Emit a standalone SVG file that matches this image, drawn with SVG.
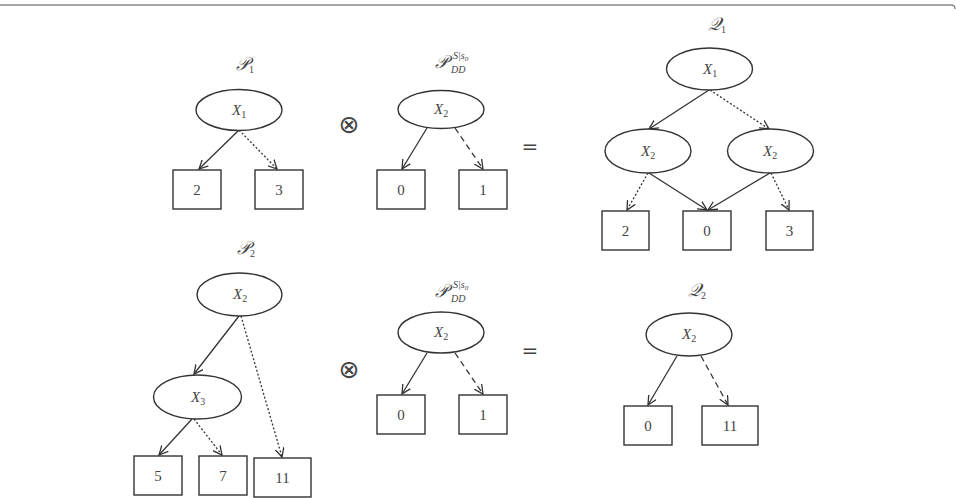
<svg xmlns="http://www.w3.org/2000/svg" width="956" height="498" viewBox="0 0 956 498">
<defs>
<marker id="ah" viewBox="0 0 10 10" refX="9" refY="5" markerWidth="10" markerHeight="10" markerUnits="userSpaceOnUse" orient="auto">
<path d="M0,0.5 L9,5 L0,9.5" fill="none" stroke="#333" stroke-width="1.3"/>
</marker>
</defs>
<style>
.n ellipse,.n rect{fill:#fff;stroke:#333;stroke-width:1.4}
.t{font-family:"Liberation Serif",serif;font-size:15px;fill:#444;text-anchor:middle}
.v{font-family:"Liberation Serif",serif;font-style:italic;font-size:15px;fill:#444}
.s{font-size:10px;font-style:normal}
.si{font-family:"Liberation Serif",serif;font-size:10px;font-style:italic;fill:#444}
.c{font-size:18px}
.e{fill:none;stroke:#333;stroke-width:1.3;marker-end:url(#ah)}
.dot{stroke-dasharray:2,2}
.dash{stroke-dasharray:6,4}
.op{font-family:"DejaVu Sans",sans-serif;font-size:20px;fill:#444;text-anchor:middle}
.ot{font-family:"DejaVu Sans",sans-serif;font-size:25px;fill:#444;text-anchor:middle}
</style>
<path d="M0,5 H951 Q955,5 955,9" fill="none" stroke="#888" stroke-width="1.5"/>

<g id="labels">
<text class="v" x="236" y="70"><tspan class="c">𝒫</tspan><tspan class="s" dy="3">1</tspan></text>
<text class="v c" x="435" y="68">𝒫</text>
<text class="si" x="451" y="73">DD</text>
<text class="si" x="453" y="59">S|s<tspan font-size="7" dy="2">0</tspan></text>
<text class="v" x="708" y="30"><tspan class="c">𝒬</tspan><tspan class="s" dy="3">1</tspan></text>
<text class="v" x="237" y="254"><tspan class="c">𝒫</tspan><tspan class="s" dy="3">2</tspan></text>
<text class="v c" x="435" y="297">𝒫</text>
<text class="si" x="451" y="302">DD</text>
<text class="si" x="453" y="288">S|s<tspan font-size="7" dy="2">0</tspan></text>
<text class="v" x="688" y="296"><tspan class="c">𝒬</tspan><tspan class="s" dy="3">2</tspan></text>
<text class="ot" x="349" y="133">⊗</text>
<text class="ot" x="349" y="378">⊗</text>
<text class="op" x="530" y="153">=</text>
<text class="op" x="530" y="357">=</text>
</g>

<g id="connectors">
<line class="e" x1="239" y1="130" x2="199" y2="169"/>
<line class="e dot" x1="239" y1="130" x2="277" y2="169"/>
<line class="e" x1="427" y1="128" x2="402" y2="169"/>
<line class="e dash" x1="455" y1="128" x2="483" y2="169"/>
<line class="e" x1="709" y1="90" x2="649" y2="129"/>
<line class="e dot" x1="710" y1="90" x2="769" y2="129"/>
<line class="e dot" x1="648" y1="173" x2="627" y2="210"/>
<line class="e" x1="649" y1="173" x2="707" y2="210"/>
<line class="e" x1="770" y1="173" x2="708" y2="210"/>
<line class="e dot" x1="771" y1="173" x2="789" y2="210"/>
<line class="e" x1="239" y1="316" x2="194" y2="374"/>
<line class="e dot" x1="241" y1="316" x2="282" y2="457"/>
<line class="e" x1="192" y1="419" x2="159" y2="455"/>
<line class="e dot" x1="194" y1="419" x2="222" y2="455"/>
<line class="e" x1="427" y1="353" x2="402" y2="394"/>
<line class="e dash" x1="455" y1="353" x2="483" y2="394"/>
<line class="e" x1="677" y1="356" x2="648" y2="405"/>
<line class="e dash" x1="701" y1="356" x2="728" y2="405"/>
</g>

<g id="p1-x1" class="n"><ellipse cx="239" cy="110" rx="43" ry="20.5"/><text class="v" x="232" y="115">X<tspan class="s" dy="3">1</tspan></text></g>
<g id="p1-2" class="n"><rect x="173" y="170" width="48" height="39"/><text class="t" x="197" y="195">2</text></g>
<g id="p1-3" class="n"><rect x="255" y="170" width="48" height="39"/><text class="t" x="279" y="195">3</text></g>

<g id="pdd1-x2" class="n"><ellipse cx="441" cy="109.5" rx="43" ry="19"/><text class="v" x="434" y="114">X<tspan class="s" dy="3">2</tspan></text></g>
<g id="pdd1-0" class="n"><rect x="377" y="170" width="48" height="39"/><text class="t" x="401" y="195">0</text></g>
<g id="pdd1-1" class="n"><rect x="459" y="170" width="48" height="39"/><text class="t" x="483" y="195">1</text></g>

<g id="q1-x1" class="n"><ellipse cx="709.5" cy="69" rx="43" ry="21"/><text class="v" x="703" y="74">X<tspan class="s" dy="3">1</tspan></text></g>
<g id="q1-x2a" class="n"><ellipse cx="648" cy="151" rx="43" ry="22"/><text class="v" x="641" y="156">X<tspan class="s" dy="3">2</tspan></text></g>
<g id="q1-x2b" class="n"><ellipse cx="770.5" cy="151" rx="43" ry="22"/><text class="v" x="763" y="156">X<tspan class="s" dy="3">2</tspan></text></g>
<g id="q1-2" class="n"><rect x="602" y="211" width="47" height="39"/><text class="t" x="625.5" y="236">2</text></g>
<g id="q1-0" class="n"><rect x="683" y="211" width="48" height="39"/><text class="t" x="707" y="236">0</text></g>
<g id="q1-3" class="n"><rect x="766" y="211" width="47" height="39"/><text class="t" x="789.5" y="236">3</text></g>

<g id="p2-x2" class="n"><ellipse cx="239.5" cy="294.5" rx="42.5" ry="21.5"/><text class="v" x="233" y="299">X<tspan class="s" dy="3">2</tspan></text></g>
<g id="p2-x3" class="n"><ellipse cx="197.5" cy="397" rx="44" ry="22"/><text class="v" x="191" y="402">X<tspan class="s" dy="3">3</tspan></text></g>
<g id="p2-5" class="n"><rect x="134" y="456" width="48" height="39"/><text class="t" x="158" y="481">5</text></g>
<g id="p2-7" class="n"><rect x="199" y="456" width="48" height="39"/><text class="t" x="223" y="481">7</text></g>
<g id="p2-11" class="n"><rect x="254" y="458" width="57" height="39"/><text class="t" x="282.5" y="483">11</text></g>

<g id="pdd2-x2" class="n"><ellipse cx="441" cy="332.5" rx="43" ry="20.5"/><text class="v" x="434" y="337">X<tspan class="s" dy="3">2</tspan></text></g>
<g id="pdd2-0" class="n"><rect x="377" y="395" width="48" height="39"/><text class="t" x="401" y="420">0</text></g>
<g id="pdd2-1" class="n"><rect x="459" y="395" width="48" height="39"/><text class="t" x="483" y="420">1</text></g>

<g id="q2-x2" class="n"><ellipse cx="689" cy="334.5" rx="43" ry="21.5"/><text class="v" x="682" y="339">X<tspan class="s" dy="3">2</tspan></text></g>
<g id="q2-0" class="n"><rect x="624" y="406" width="48" height="39"/><text class="t" x="648" y="431">0</text></g>
<g id="q2-11" class="n"><rect x="702" y="406" width="56" height="39"/><text class="t" x="730" y="431">11</text></g>
</svg>
